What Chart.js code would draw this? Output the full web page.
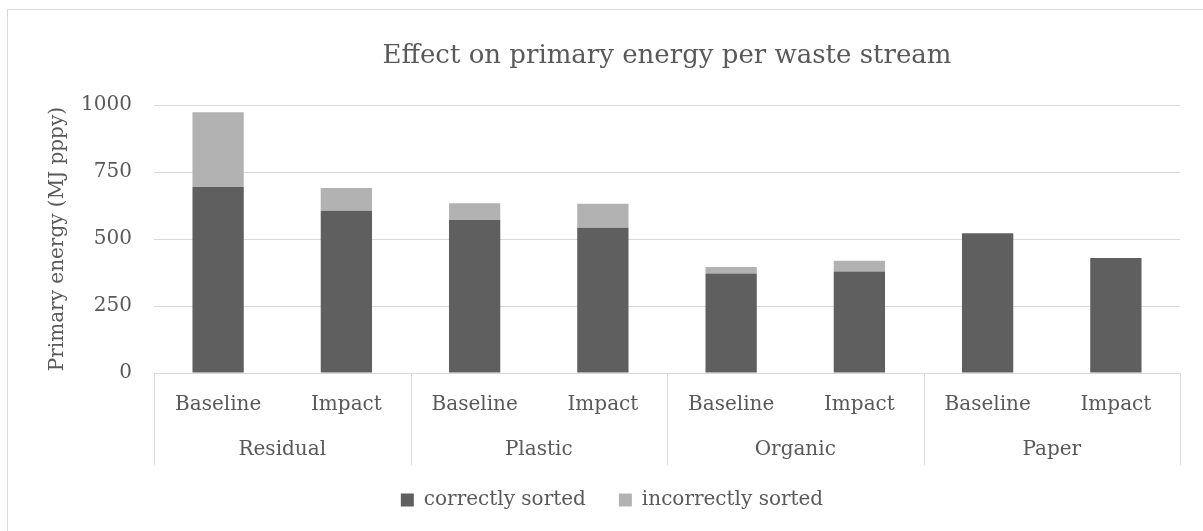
<!DOCTYPE html>
<html>
<head>
<meta charset="utf-8">
<title>Effect on primary energy per waste stream</title>
<script src="https://cdn.jsdelivr.net/npm/chart.js@4/dist/chart.umd.min.js"></script>
<style>
  html, body { margin: 0; padding: 0; background: #ffffff; overflow: hidden; }
  #frame {
    position: absolute; left: 7px; top: 9px; width: 1300px; height: 600px;
    border: 1px solid #d9d9d9; box-sizing: border-box;
  }
  #chart { position: absolute; left: 0; top: 0; }
</style>
</head>
<body>
<div id="frame"></div>
<canvas id="chart" width="1203" height="531"></canvas>
<script>
// Waste streams and the two scenarios shown for each of them
const streams = ['Residual', 'Plastic', 'Organic', 'Paper'];
const scenarios = ['Baseline', 'Impact'];
const barLabels = ['Baseline', 'Impact', 'Baseline', 'Impact', 'Baseline', 'Impact', 'Baseline', 'Impact'];

// Primary energy, MJ per person per year
const correctlySorted = [695, 606, 571, 542, 372, 379, 522, 429];
const incorrectlySorted = [279, 85, 63, 90, 24, 40, 0, 0];

const yTicks = [0, 250, 500, 750, 1000];

const TEXT = '#595959';
const LINE = '#d9d9d9';
const FONT = "'DejaVu Serif', serif";

Chart.defaults.font.family = FONT;
Chart.defaults.color = TEXT;

// Separator lines of the two-row category table under the plot,
// and no clipping of the category labels to their own axis boxes
const tableLines = {
  id: 'tableLines',
  beforeDraw(chart) {
    chart.scales.x._computeLabelArea = () => undefined;
    chart.scales.x2._computeLabelArea = () => undefined;
  },
  afterDraw(chart) {
    const x2 = chart.scales.x2;
    const top = chart.chartArea.bottom;
    const bottom = x2.top + 46;
    const w = x2.getPixelForTick(1) - x2.getPixelForTick(0);
    const start = x2.getPixelForTick(0) - w / 2;
    const ctx = chart.ctx;
    ctx.save();
    ctx.strokeStyle = LINE;
    ctx.lineWidth = 1;
    ctx.beginPath();
    for (let i = 0; i <= streams.length; i++) {
      const px = Math.round(start + i * w) + 0.5;
      ctx.moveTo(px, top);
      ctx.lineTo(px, bottom);
    }
    ctx.stroke();
    ctx.restore();
  }
};

const labelFont = { family: FONT, size: 20 };

new Chart(document.getElementById('chart'), {
  type: 'bar',
  data: {
    labels: barLabels,
    datasets: [
      {
        label: 'correctly sorted',
        data: correctlySorted,
        backgroundColor: '#5f5f5f',
        barPercentage: 0.4,
        categoryPercentage: 1.0
      },
      {
        label: 'incorrectly sorted',
        data: incorrectlySorted,
        backgroundColor: '#b2b2b2',
        barPercentage: 0.4,
        categoryPercentage: 1.0
      }
    ]
  },
  options: {
    responsive: false,
    animation: false,
    devicePixelRatio: 1,
    layout: { padding: { left: 44, right: 23, top: 0, bottom: 11 } },
    plugins: {
      tooltip: { enabled: false },
      title: {
        display: true,
        fullSize: false,
        text: 'Effect on primary energy per waste stream',
        color: TEXT,
        font: { family: FONT, size: 26, weight: 'normal' },
        padding: { top: 41, bottom: 33 }
      },
      legend: {
        position: 'bottom',
        labels: {
          color: TEXT,
          font: labelFont,
          boxWidth: 13,
          boxHeight: 13,
          padding: 33
        }
      }
    },
    scales: {
      x: {
        stacked: true,
        offset: true,
        weight: 0,
        grid: { display: false, drawTicks: false },
        border: { display: false },
        ticks: { color: TEXT, font: labelFont, padding: 20, maxRotation: 0, autoSkip: false },
        afterFit(s) { s.height = 46; }
      },
      x2: {
        type: 'category',
        position: 'bottom',
        labels: streams,
        offset: true,
        weight: 1,
        grid: { display: false, drawTicks: false },
        border: { display: false },
        ticks: { color: TEXT, font: labelFont, padding: 19, maxRotation: 0, autoSkip: false },
        afterFit(s) { s.height = 38; }
      },
      y: {
        stacked: true,
        min: 0,
        max: 1000,
        afterBuildTicks(s) { s.ticks = yTicks.map(v => ({ value: v })); },
        grid: { color: LINE, lineWidth: 1, drawTicks: false },
        border: { display: false },
        ticks: { color: TEXT, font: labelFont, padding: 22, callback: v => String(v) },
        title: {
          display: true,
          text: 'Primary energy (MJ pppy)',
          color: TEXT,
          font: labelFont,
          padding: { top: 2, bottom: 0 }
        },
        afterFit(s) { s.width = 110; }
      }
    }
  },
  plugins: [tableLines]
});
</script>
</body>
</html>
